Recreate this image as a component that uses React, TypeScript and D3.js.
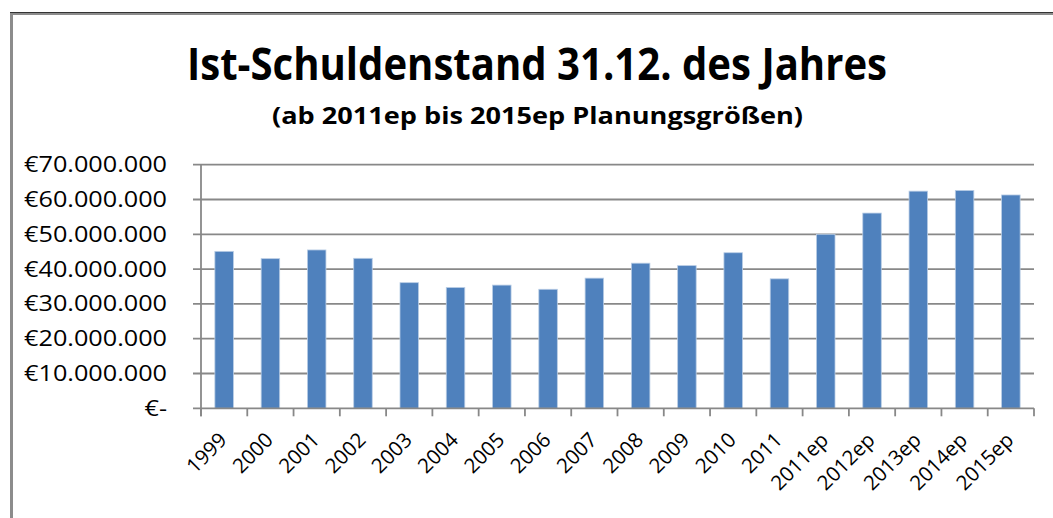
import { useEffect, useRef } from "react";
import * as d3 from "d3";

const years = [
  "1999", "2000", "2001", "2002", "2003", "2004", "2005", "2006", "2007",
  "2008", "2009", "2010", "2011", "2011ep", "2012ep", "2013ep", "2014ep", "2015ep",
];
// Schuldenstand in Mio. €
const debtMio = [
  45.1, 43.0, 45.5, 43.1, 36.1, 34.7, 35.4, 34.2, 37.4,
  41.7, 41.0, 44.7, 37.2, 50.0, 56.1, 62.4, 62.6, 61.3,
];
const yTicks = [0, 10, 20, 30, 40, 50, 60, 70];
const yTickLabels = [
  "€-", "€10.000.000", "€20.000.000", "€30.000.000", "€40.000.000",
  "€50.000.000", "€60.000.000", "€70.000.000",
];

const title = "Ist-Schuldenstand 31.12. des Jahres";
const subtitle = "(ab 2011ep bis 2015ep Planungsgrößen)";

const App = () => {
  const svgRef = useRef<SVGSVGElement | null>(null);
  const width = 1053;
  const height = 518;
  const margin = { top: 164.7, right: 19, bottom: 109.7, left: 201 };
  const font = "'Open Sans', sans-serif";

  useEffect(() => {
    const svg = d3.select(svgRef.current);
    svg.selectAll("*").remove();

    svg.append("rect").attr("width", width).attr("height", height).attr("fill", "#fff");

    // chart frame
    svg
      .append("rect")
      .attr("x", 11.5)
      .attr("y", 13.5)
      .attr("width", width + 20)
      .attr("height", height + 20)
      .attr("fill", "none")
      .attr("stroke", "#8c8c8c")
      .attr("stroke-width", 3);
    svg
      .append("line")
      .attr("x1", 10)
      .attr("x2", width)
      .attr("y1", 12.5)
      .attr("y2", 12.5)
      .attr("stroke", "#333")
      .attr("stroke-width", 1.2);

    const x = d3
      .scaleBand()
      .domain(years)
      .range([margin.left, width - margin.right])
      .paddingInner(0.6)
      .paddingOuter(0.3);

    const y = d3
      .scaleLinear()
      .domain([0, 70])
      .range([height - margin.bottom, margin.top]);

    const step = x.step();
    const x0 = margin.left;
    const x1 = width - margin.right;

    // gridlines
    svg
      .append("g")
      .selectAll("line")
      .data(yTicks.filter((d) => d > 0))
      .enter()
      .append("line")
      .attr("x1", x0 - 8)
      .attr("x2", x1)
      .attr("y1", (d) => y(d))
      .attr("y2", (d) => y(d))
      .attr("stroke", "#888")
      .attr("stroke-width", 1.8);

    // bars
    svg
      .append("g")
      .selectAll("rect")
      .data(years)
      .enter()
      .append("rect")
      .attr("x", (d) => x(d)!)
      .attr("y", (d, i) => y(debtMio[i]))
      .attr("width", x.bandwidth())
      .attr("height", (d, i) => y(0) - y(debtMio[i]))
      .attr("fill", "#4f81bd")
      .attr("stroke", "#b9cde5")
      .attr("stroke-width", 0.8);

    // axes
    svg
      .append("line")
      .attr("x1", x0)
      .attr("x2", x0)
      .attr("y1", y(70))
      .attr("y2", y(0) + 8)
      .attr("stroke", "#888")
      .attr("stroke-width", 1.8);
    svg
      .append("line")
      .attr("x1", x0 - 8)
      .attr("x2", x1)
      .attr("y1", y(0))
      .attr("y2", y(0))
      .attr("stroke", "#888")
      .attr("stroke-width", 1.8);
    svg
      .append("g")
      .selectAll("line")
      .data(d3.range(years.length + 1))
      .enter()
      .append("line")
      .attr("x1", (i) => x0 + i * step)
      .attr("x2", (i) => x0 + i * step)
      .attr("y1", y(0))
      .attr("y2", y(0) + 8)
      .attr("stroke", "#888")
      .attr("stroke-width", 1.8);

    // y labels (slightly stretched, like the original)
    svg
      .append("g")
      .selectAll("text")
      .data(yTicks)
      .enter()
      .append("text")
      .attr("transform", (d) => `translate(167,${y(d)}) scale(1.2,1)`)
      .attr("dy", "0.36em")
      .attr("text-anchor", "end")
      .attr("font-family", font)
      .attr("font-size", 21)
      .attr("fill", "#000")
      .text((d, i) => yTickLabels[i]);

    // x labels
    svg
      .append("g")
      .selectAll("text")
      .data(years)
      .enter()
      .append("text")
      .attr(
        "transform",
        (d) => `translate(${x(d)! + x.bandwidth() / 2 + 4},${y(0) + 33}) rotate(-45)`
      )
      .attr("text-anchor", "end")
      .attr("font-family", font)
      .attr("font-size", 20.5)
      .attr("fill", "#000")
      .text((d) => d);

    // titles
    svg
      .append("text")
      .attr("x", 537)
      .attr("y", 79.5)
      .attr("text-anchor", "middle")
      .attr("font-family", font)
      .attr("font-weight", "bold")
      .attr("font-size", 44)
      .attr("textLength", 700)
      .attr("lengthAdjust", "spacingAndGlyphs")
      .text(title);
    svg
      .append("text")
      .attr("x", 537.5)
      .attr("y", 124)
      .attr("text-anchor", "middle")
      .attr("font-family", font)
      .attr("font-weight", "bold")
      .attr("font-size", 24)
      .attr("textLength", 531)
      .attr("lengthAdjust", "spacingAndGlyphs")
      .text(subtitle);
  }, []);

  return (
    <div style={{ position: "fixed", left: 0, top: 0 }}>
      <svg ref={svgRef} width={width} height={height} style={{ display: "block" }} />
    </div>
  );
};

export default App;
